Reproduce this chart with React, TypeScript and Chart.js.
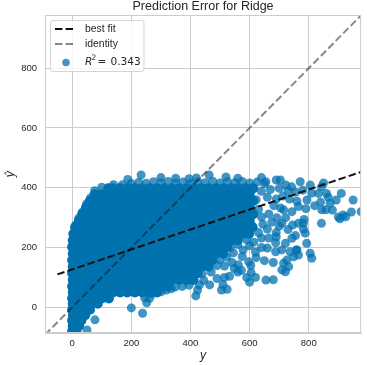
import { useEffect, useRef } from "react";
import { Chart, registerables } from "chart.js";

Chart.register(...registerables);

// ---- data ----
const chartTitle = "Prediction Error for Ridge";
const xTickValues = [0, 200, 400, 600, 800];
const yTickValues = [0, 200, 400, 600, 800];
const axisMin = { x: -92, y: -86 };
const axisMax = { x: 977, y: 978 };

// best fit line endpoints (actual, predicted)
const bestFitActual = [-50, 977];
const bestFitPredicted = [110, 453];
// identity line endpoints
const identityActual = [-92, 978];
const identityPredicted = [-92, 978];
const r2Text = "0.343";

// dense core of the scatter: one predicted level per row, actual values in that row
const predictedRows = [-80, -62, -44, -26, -8, 12, 30, 50, 70, 92, 114, 136, 158, 180, 202, 224, 246, 268, 290, 312, 334, 356, 378, 398];
const actualRows: number[][] = [
  [0, 14],
  [2, 11, 23],
  [0, 17, 31],
  [3, 14, 33, 44],
  [0, 22, 44, 60],
  [2, 14, 38, 61, 86],
  [0, 25, 49, 74, 100, 124],
  [2, 13, 37, 63, 88, 112, 138, 162, 186, 212, 238, 262, 287],
  [0, 26, 50, 74, 99, 125, 151, 175, 199, 224, 250, 276, 300, 323],
  [2, 13, 38, 61, 87, 113, 137, 162, 188, 212, 236, 262, 288, 312, 337, 361, 387, 410],
  [0, 24, 50, 76, 100, 124, 149, 175, 201, 225, 249, 274, 300, 326, 350, 374, 399, 424],
  [2, 12, 37, 63, 88, 111, 137, 163, 187, 212, 238, 262, 287, 313, 338, 362, 386, 412, 437, 461],
  [0, 25, 51, 75, 99, 125, 150, 176, 200, 224, 250, 275, 301, 325, 349, 375, 400, 426, 450, 474],
  [2, 12, 38, 62, 86, 112, 138, 162, 187, 213, 237, 261, 288, 312, 337, 363, 387, 411, 437, 462, 488, 511],
  [0, 25, 49, 75, 101, 125, 150, 174, 200, 226, 250, 274, 299, 325, 351, 375, 399, 425, 450, 474, 500, 524],
  [2, 12, 37, 63, 87, 112, 138, 162, 186, 212, 238, 263, 287, 311, 337, 362, 388, 412, 436, 462, 487, 512, 538, 560],
  [4, 25, 50, 74, 100, 126, 150, 175, 199, 225, 250, 276, 300, 324, 350, 375, 401, 425, 449, 475, 500, 526, 550, 575, 598],
  [10, 37, 62, 88, 112, 137, 163, 187, 211, 237, 262, 288, 312, 336, 362, 387, 413, 437, 461, 487, 512, 538, 562, 586, 610],
  [23, 49, 75, 99, 125, 151, 175, 200, 224, 250, 276, 300, 325, 349, 375, 400, 426, 450, 474, 500, 525, 551, 575, 600],
  [34, 62, 87, 112, 138, 162, 188, 213, 237, 262, 287, 313, 338, 362, 387, 412, 438, 462, 487, 512, 537, 563, 588, 612],
  [47, 75, 100, 124, 150, 175, 200, 225, 250, 275, 300, 325, 350, 376, 400, 425, 450, 475, 500, 525, 550, 575, 600],
  [60, 87, 112, 137, 162, 188, 212, 237, 263, 288, 312, 337, 362, 387, 412, 438, 462, 487, 512, 537, 562, 588, 612],
  [76, 100, 125, 150, 175, 200, 225, 250, 275, 300, 325, 350, 375, 400, 425, 450, 475, 500, 525, 550, 575, 600],
  [122, 137, 162, 187, 212, 237, 262, 287, 312, 337, 362, 387, 412, 437, 462, 487, 512, 537, 562, 587, 612],
];

// individual points around the edges: [actual, predicted]
const topEdgePoints: [number, number][] = [
  [170, 410], [200, 414], [225, 418], [250, 415], [275, 420], [300, 417], [325, 421], [350, 416], [375, 419],
  [400, 415], [425, 420], [450, 417], [475, 422], [500, 416], [525, 420], [550, 417], [575, 421], [600, 416],
  [625, 419], [650, 414], [188, 428], [233, 443], [300, 434], [350, 432], [395, 430], [420, 433], [463, 443],
  [520, 436], [560, 432], [640, 434],
  [12, 276], [22, 298], [34, 318], [48, 346], [62, 366], [76, 390], [100, 402], [140, 410],
];
const lowEdgePoints: [number, number][] = [
  [50, -76], [77, -42], [200, -2], [238, -20], [252, 15], [262, 30], [245, 32], [272, 46], [300, 52],
  [318, 58], [335, 62], [348, 68], [372, 70], [395, 74], [424, 58], [418, 38],
];
const middlePoints: [number, number][] = [
  [430, 75], [445, 90], [465, 75], [490, 96], [440, 112], [470, 118], [505, 58], [510, 76], [524, 60],
  [515, 100], [532, 104], [560, 118], [548, 130], [572, 124], [590, 100], [605, 116], [620, 100], [600, 84],
  [655, 91], [680, 92], [490, 140], [515, 138], [540, 150], [562, 142], [604, 140], [500, 160], [523, 168],
  [545, 182], [597, 152], [622, 166], [650, 156], [680, 150], [575, 170], [535, 200], [560, 210], [578, 192],
  [600, 206], [620, 185], [640, 200], [660, 198], [688, 186], [614, 218], [590, 226], [640, 232], [665, 232],
  [690, 236], [688, 216],
  [630, 250], [660, 262], [690, 250], [645, 278], [675, 285], [700, 272], [640, 302], [665, 312], [692, 300],
  [630, 328], [682, 340], [705, 332], [622, 360], [660, 368], [690, 362], [640, 388], [670, 394], [700, 398],
  [655, 420], [690, 426],
];
const farPoints: [number, number][] = [
  [704, 426], [723, 409], [742, 403], [771, 420], [805, 409], [843, 403], [850, 416],
  [730, 390], [755, 385], [780, 392], [712, 372], [735, 362], [760, 355],
  [810, 382], [833, 381], [860, 381], [866, 368], [910, 381],
  [794, 359], [840, 352], [872, 348], [893, 359], [950, 359],
  [765, 337], [743, 320], [715, 326], [790, 330], [820, 340], [844, 326], [858, 326],
  [880, 325], [916, 309], [925, 303], [900, 302], [944, 319], [977, 320], [906, 296],
  [843, 281], [709, 281], [765, 281], [782, 281], [784, 294], [782, 262], [788, 248], [730, 260], [745, 275], [722, 300],
  [793, 214], [805, 181], [810, 164], [758, 192], [765, 175],
  [743, 231], [721, 214], [709, 192], [737, 186], [760, 192], [749, 169], [726, 158], [715, 147], [732, 136],
  [709, 125], [721, 119], [755, 240],
];

// ---- styles ----
const GRID = "#cccccc";
const TEXT = "#262626";
const SANS = '"Liberation Sans", Arial, sans-serif';
const MATH = '"DejaVu Sans", sans-serif';
const POINT_COLOR = "rgba(0,114,178,0.75)";
const CORE_COLOR = "rgb(0,114,174)";
const BEST_FIT_COLOR = "#111111";
const IDENTITY_COLOR = "rgba(17,17,17,0.5)";
const DASH = [7.4, 3.2];

const framePlugin = {
  id: "frame",
  afterDatasetsDraw(chart: any) {
    const { ctx, chartArea: a } = chart;
    ctx.save();
    ctx.strokeStyle = GRID;
    ctx.lineWidth = 1;
    ctx.strokeRect(a.left + 0.5, a.top + 0.5, a.right - a.left - 1, a.bottom - a.top - 1);
    ctx.restore();
  },
};

const legendPlugin = {
  id: "customLegend",
  afterDraw(chart: any) {
    const ctx = chart.ctx as CanvasRenderingContext2D;
    const a = chart.chartArea;
    ctx.save();
    // title centred over the plot area
    ctx.fillStyle = TEXT;
    ctx.textAlign = "center";
    ctx.textBaseline = "middle";
    ctx.font = `12.5px ${SANS}`;
    ctx.fillText(chartTitle, (a.left + a.right) / 2, 6.5);

    ctx.beginPath();
    (ctx as any).roundRect(50.5, 20.5, 93.5, 51, 2.5);
    ctx.fillStyle = "rgba(255,255,255,0.8)";
    ctx.fill();
    ctx.strokeStyle = "rgba(204,204,204,0.8)";
    ctx.lineWidth = 1;
    ctx.stroke();

    ctx.lineWidth = 2;
    ctx.setLineDash(DASH);
    ctx.strokeStyle = BEST_FIT_COLOR;
    ctx.beginPath();
    ctx.moveTo(55, 29);
    ctx.lineTo(75, 29);
    ctx.stroke();
    ctx.strokeStyle = IDENTITY_COLOR;
    ctx.beginPath();
    ctx.moveTo(55, 44);
    ctx.lineTo(75, 44);
    ctx.stroke();
    ctx.setLineDash([]);

    ctx.fillStyle = POINT_COLOR;
    ctx.beginPath();
    ctx.arc(66, 62.5, 3.8, 0, Math.PI * 2);
    ctx.fill();

    ctx.fillStyle = TEXT;
    ctx.textBaseline = "middle";
    ctx.textAlign = "left";
    ctx.font = `10.4px ${SANS}`;
    ctx.fillText("best fit", 85, 29);
    ctx.fillText("identity", 85, 44);
    ctx.font = `italic 10.5px ${MATH}`;
    ctx.fillText("R", 85, 62);
    ctx.font = `7.5px ${MATH}`;
    ctx.fillText("2", 91.5, 58);
    ctx.font = `10.5px ${MATH}`;
    ctx.fillText("=", 97.5, 62);
    ctx.fillText(r2Text, 110.5, 62);
    ctx.restore();
  },
};

function buildCore() {
  const pts: { x: number; y: number }[] = [];
  predictedRows.forEach((p, i) => actualRows[i].forEach((a) => pts.push({ x: a, y: p })));
  return pts;
}
function buildEdges() {
  return [...topEdgePoints, ...lowEdgePoints, ...middlePoints, ...farPoints].map(([a, p]) => ({ x: a, y: p }));
}

export default function App() {
  const ref = useRef<HTMLCanvasElement>(null);
  useEffect(() => {
    const tickFont = { family: SANS, size: 9.5 };
    const chart = new Chart(ref.current as HTMLCanvasElement, {
      type: "scatter",
      data: {
        datasets: [
          {
            label: "best fit",
            data: bestFitActual.map((x, i) => ({ x, y: bestFitPredicted[i] })),
            showLine: true,
            borderColor: BEST_FIT_COLOR,
            borderWidth: 2,
            borderDash: DASH,
            pointRadius: 0,
            order: 0,
            clip: 0,
          } as any,
          {
            label: "identity",
            data: identityActual.map((x, i) => ({ x, y: identityPredicted[i] })),
            showLine: true,
            borderColor: IDENTITY_COLOR,
            borderWidth: 2,
            borderDash: DASH,
            pointRadius: 0,
            order: 1,
            clip: 0,
          } as any,
          {
            label: "R2",
            data: buildEdges(),
            backgroundColor: POINT_COLOR,
            pointBackgroundColor: POINT_COLOR,
            pointRadius: 4.5,
            pointBorderWidth: 0,
            borderWidth: 0,
            order: 2,
            clip: 0,
          } as any,
          {
            label: "R2 core",
            data: buildCore(),
            backgroundColor: CORE_COLOR,
            pointBackgroundColor: CORE_COLOR,
            pointBorderColor: CORE_COLOR,
            pointRadius: 4.3,
            pointBorderWidth: 1.6,
            order: 3,
            clip: 0,
          } as any,
        ],
      },
      options: {
        animation: false,
        responsive: false,
        maintainAspectRatio: false,
        devicePixelRatio: 1,
        events: [],
        layout: { padding: { left: 0, right: 4, top: 15, bottom: 0 } },
        plugins: {
          legend: { display: false },
          tooltip: { enabled: false },
          title: { display: false },
        },
        scales: {
          x: {
            type: "linear",
            min: axisMin.x,
            max: axisMax.x,
            afterBuildTicks: (s: any) => {
              s.ticks = xTickValues.map((v) => ({ value: v }));
            },
            afterFit: (s: any) => {
              s.height = 32;
            },
            grid: { color: GRID, lineWidth: 1, drawTicks: false },
            border: { display: true, color: GRID, width: 1 },
            ticks: { padding: 5, color: TEXT, font: tickFont, callback: (v: any) => String(v) },
            title: {
              display: true,
              text: "y",
              color: TEXT,
              font: { family: MATH, size: 11.5, style: "italic" },
              padding: { top: 0, bottom: 2.5 },
            },
          },
          y: {
            type: "linear",
            min: axisMin.y,
            max: axisMax.y,
            afterBuildTicks: (s: any) => {
              s.ticks = yTickValues.map((v) => ({ value: v }));
            },
            afterFit: (s: any) => {
              s.width = 45;
            },
            grid: { color: GRID, lineWidth: 1, drawTicks: false },
            border: { display: true, color: GRID, width: 1 },
            ticks: { padding: 8, color: TEXT, font: tickFont, callback: (v: any) => String(v) },
            title: {
              display: true,
              text: "ŷ",
              color: TEXT,
              font: { family: MATH, size: 11.5, style: "italic" },
              padding: { top: 4, bottom: 0 },
            },
          },
        },
      } as any,
      plugins: [framePlugin, legendPlugin],
    });
    return () => chart.destroy();
  }, []);
  return (
    <div style={{ position: "absolute", left: 0, top: 0, width: 367, height: 365, background: "#ffffff" }}>
      <canvas ref={ref} width={367} height={365} style={{ display: "block", width: 367, height: 365 }} />
    </div>
  );
}
